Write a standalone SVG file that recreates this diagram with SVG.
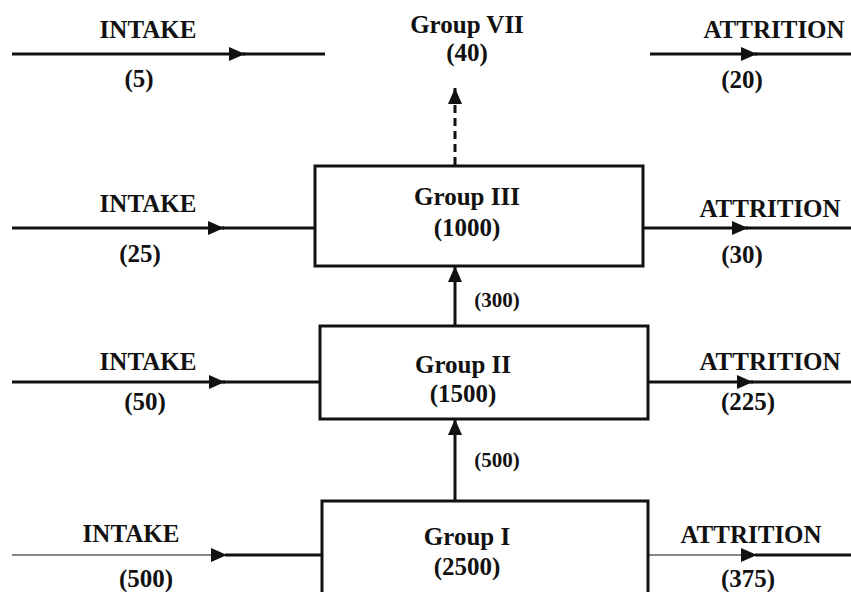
<svg xmlns="http://www.w3.org/2000/svg" width="851" height="592" viewBox="0 0 851 592">
<style>
text{font-family:"Liberation Serif","Times New Roman",serif;font-weight:bold;fill:#111;text-anchor:middle}
.lbl{font-size:25px}
.sm{font-size:21px}
.box{fill:#fff;stroke:#111;stroke-width:3}
.ln{stroke:#111;stroke-width:3;fill:none}
.thin{stroke:#111;stroke-width:1.2;fill:none}
.dash{stroke:#111;stroke-width:3;fill:none;stroke-dasharray:8 5}
</style>
<defs>
<marker id="ah" markerUnits="userSpaceOnUse" markerWidth="18" markerHeight="14" refX="16" refY="7" orient="auto">
<path d="M0,0 L16,7 L0,14 Z" fill="#111"/>
</marker>
</defs>
<g id="connectors">
<line class="ln" x1="12" y1="54" x2="245" y2="54" marker-end="url(#ah)"/>
<line class="ln" x1="243" y1="54" x2="325" y2="54"/>
<line class="ln" x1="650" y1="54" x2="757" y2="54" marker-end="url(#ah)"/>
<line class="ln" x1="755" y1="54" x2="851" y2="54"/>
<line class="ln" x1="12" y1="228" x2="224" y2="228" marker-end="url(#ah)"/>
<line class="ln" x1="222" y1="228" x2="315" y2="228"/>
<line class="ln" x1="643" y1="228" x2="748" y2="228" marker-end="url(#ah)"/>
<line class="ln" x1="746" y1="228" x2="851" y2="228"/>
<line class="ln" x1="12" y1="382" x2="225" y2="382" marker-end="url(#ah)"/>
<line class="ln" x1="223" y1="382" x2="320" y2="382"/>
<line class="ln" x1="648" y1="382" x2="753" y2="382" marker-end="url(#ah)"/>
<line class="ln" x1="751" y1="382" x2="851" y2="382"/>
<line class="thin" x1="12" y1="555" x2="227" y2="555" marker-end="url(#ah)"/>
<line class="ln" x1="225" y1="555" x2="322" y2="555"/>
<line class="thin" x1="648" y1="555" x2="757" y2="555" marker-end="url(#ah)"/>
<line class="ln" x1="755" y1="555" x2="851" y2="555"/>
<line class="ln" x1="455" y1="325" x2="455" y2="266" marker-end="url(#ah)"/>
<line class="ln" x1="455" y1="500" x2="455" y2="419" marker-end="url(#ah)"/>
<line class="dash" x1="455" y1="165" x2="455" y2="104"/>
<line class="ln" x1="455" y1="104" x2="455" y2="88" marker-end="url(#ah)"/>
</g>
<g id="intake-labels">
<text class="lbl" x="148" y="38">INTAKE</text>
<text class="lbl" x="139" y="87">(5)</text>
<text class="lbl" x="148" y="212">INTAKE</text>
<text class="lbl" x="140" y="262">(25)</text>
<text class="lbl" x="148" y="370">INTAKE</text>
<text class="lbl" x="145" y="410">(50)</text>
<text class="lbl" x="131" y="542">INTAKE</text>
<text class="lbl" x="146" y="587">(500)</text>
</g>
<g id="attrition-labels">
<text class="lbl" x="774" y="38">ATTRITION</text>
<text class="lbl" x="742" y="88">(20)</text>
<text class="lbl" x="770" y="217">ATTRITION</text>
<text class="lbl" x="742" y="263">(30)</text>
<text class="lbl" x="770" y="370">ATTRITION</text>
<text class="lbl" x="748" y="410">(225)</text>
<text class="lbl" x="751" y="543">ATTRITION</text>
<text class="lbl" x="748" y="587">(375)</text>
</g>
<g id="group7">
<text class="lbl" x="467" y="33">Group VII</text>
<text class="lbl" x="467" y="61">(40)</text>
</g>
<g id="group3">
<rect class="box" x="315" y="166" width="328" height="100"/>
<text class="lbl" x="467" y="205">Group III</text>
<text class="lbl" x="467" y="236">(1000)</text>
</g>
<g id="group2">
<rect class="box" x="320" y="326" width="328" height="93"/>
<text class="lbl" x="463" y="373">Group II</text>
<text class="lbl" x="463" y="402">(1500)</text>
</g>
<g id="group1">
<rect class="box" x="322" y="501" width="326" height="110"/>
<text class="lbl" x="467" y="545">Group I</text>
<text class="lbl" x="467" y="575">(2500)</text>
</g>
<g id="flow-labels">
<text class="sm" x="497" y="307">(300)</text>
<text class="sm" x="497" y="467">(500)</text>
</g>
</svg>
